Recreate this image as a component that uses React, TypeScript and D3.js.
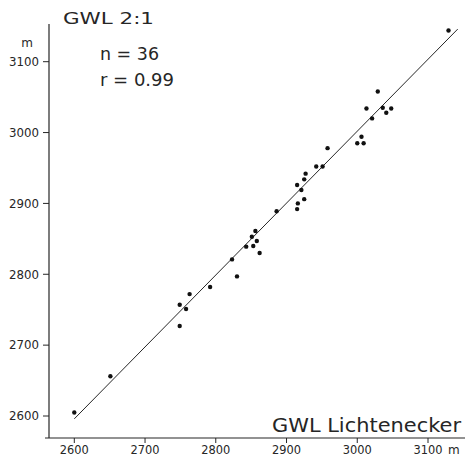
import React from "react";
import * as d3 from "d3";

// GWL Lichtenecker (x) vs GWL 2:1 (y), metres
const xValues = [
  2600, 2651, 2749, 2749, 2758, 2763, 2792, 2830, 2823, 2862, 2843, 2853,
  2858, 2851, 2856, 2886, 2915, 2916, 2925, 2921, 2915, 2925, 2927, 2942,
  2951, 2958, 3129, 3029, 3013, 3036, 3048, 3041, 3021, 3006, 3000, 3009,
];
const yValues = [
  2605, 2656, 2727, 2757, 2751, 2772, 2782, 2797, 2821, 2830, 2839, 2840,
  2847, 2853, 2861, 2889, 2892, 2900, 2906, 2919, 2926, 2934, 2942, 2952,
  2952, 2978, 3144, 3058, 3034, 3035, 3034, 3028, 3020, 2994, 2985, 2985,
];
const regX = [2600, 3142];
const regY = [2596, 3146];
const xTicks = [2600, 2700, 2800, 2900, 3000, 3100];
const yTicks = [2600, 2700, 2800, 2900, 3000, 3100];

const FONT = "'DejaVu Sans', 'Liberation Sans', sans-serif";
const INK = "#262626";

export default function App() {
  const x = d3.scaleLinear().domain([2600, 3100]).range([74.3, 428]);
  const y = d3.scaleLinear().domain([2600, 3100]).range([416, 61.7]);
  const axisX = 49;
  const axisY = 438;
  const pts = xValues.map((v, i) => [v, yValues[i]] as [number, number]);
  const line = d3
    .line<[number, number]>()
    .x((d) => x(d[0]))
    .y((d) => y(d[1]));
  const regPts = regX.map((v, i) => [v, regY[i]] as [number, number]);

  return (
    <svg
      width={465}
      height={464}
      style={{ position: "absolute", left: 0, top: 0, background: "#fff" }}
    >
      <rect x={0} y={0} width={465} height={464} fill="#fff" />
      {/* axes */}
      <line x1={axisX} y1={24} x2={axisX} y2={axisY} stroke={INK} strokeWidth={1.2} />
      <line x1={45} y1={axisY} x2={465} y2={axisY} stroke={INK} strokeWidth={1.2} />
      {/* y ticks */}
      {yTicks.map((t) => (
        <g key={"y" + t}>
          <line x1={axisX - 6} x2={axisX} y1={y(t)} y2={y(t)} stroke={INK} strokeWidth={1} />
          <text
            x={39}
            y={y(t) + 4.3}
            textAnchor="end"
            fontFamily={FONT}
            fontSize={11.5}
            fill={INK}
            textLength={30}
            lengthAdjust="spacingAndGlyphs"
          >
            {t}
          </text>
        </g>
      ))}
      <text x={27} y={47} textAnchor="middle" fontFamily={FONT} fontSize={12} fill={INK}>
        m
      </text>
      {/* x ticks */}
      {xTicks.map((t) => (
        <g key={"x" + t}>
          <line x1={x(t)} x2={x(t)} y1={axisY} y2={axisY + 5} stroke={INK} strokeWidth={1} />
          <text
            x={x(t)}
            y={454}
            textAnchor="middle"
            fontFamily={FONT}
            fontSize={12}
            fill={INK}
            textLength={29}
            lengthAdjust="spacingAndGlyphs"
          >
            {t}
          </text>
        </g>
      ))}
      <text x={448} y={454} fontFamily={FONT} fontSize={12} fill={INK}>
        m
      </text>
      {/* regression line */}
      <path d={line(regPts) || ""} fill="none" stroke={INK} strokeWidth={1} />
      {/* points */}
      {pts.map((p, i) => (
        <circle key={i} cx={x(p[0])} cy={y(p[1])} r={2.2} fill="#111" />
      ))}
      {/* labels */}
      <text
        x={63}
        y={24}
        fontFamily={FONT}
        fontSize={16}
        fill={INK}
        textLength={91}
        lengthAdjust="spacingAndGlyphs"
      >
        GWL 2:1
      </text>
      <text
        x={100}
        y={60}
        fontFamily={FONT}
        fontSize={17}
        fill={INK}
        textLength={59}
        lengthAdjust="spacingAndGlyphs"
      >
        n = 36
      </text>
      <text
        x={100}
        y={86}
        fontFamily={FONT}
        fontSize={17}
        fill={INK}
        textLength={74}
        lengthAdjust="spacingAndGlyphs"
      >
        r = 0.99
      </text>
      <text
        x={272}
        y={431.7}
        fontFamily={FONT}
        fontSize={19}
        fill={INK}
        textLength={189}
        lengthAdjust="spacingAndGlyphs"
      >
        GWL Lichtenecker
      </text>
    </svg>
  );
}
